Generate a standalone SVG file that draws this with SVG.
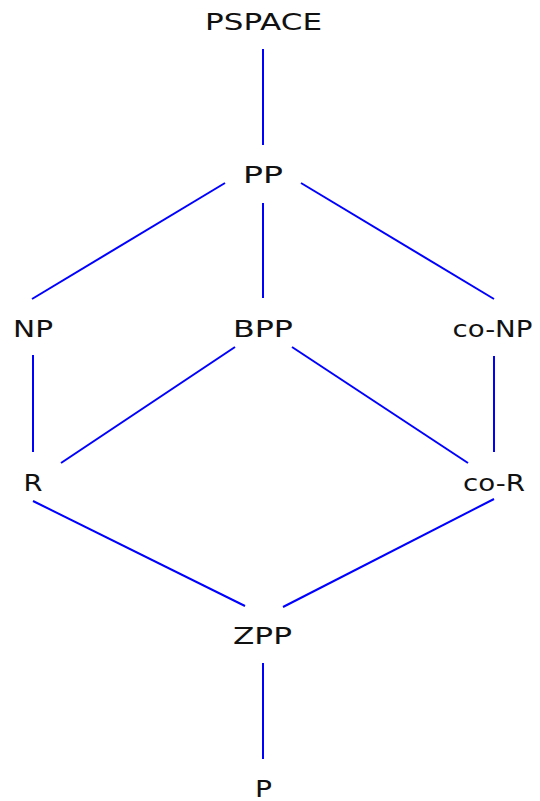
<svg xmlns="http://www.w3.org/2000/svg" width="540" height="801" viewBox="0 0 540 801">
  <style>
    .lbl { font-family: "DejaVu Sans", "Liberation Sans", sans-serif; font-size: 23px; fill: #111; text-anchor: middle; }
    .edge { stroke: #0000ff; stroke-width: 2; fill: none; }
  </style>
  <rect width="540" height="801" fill="#ffffff"/>
  <g id="connectors">
    <line class="edge" x1="263" y1="49" x2="263" y2="145"/>
    <line class="edge" x1="225" y1="183" x2="32" y2="299"/>
    <line class="edge" x1="263" y1="203" x2="263" y2="298"/>
    <line class="edge" x1="301" y1="183" x2="494" y2="299"/>
    <line class="edge" x1="33" y1="355" x2="33" y2="452"/>
    <line class="edge" x1="235" y1="347" x2="61" y2="463"/>
    <line class="edge" x1="292" y1="347" x2="468" y2="463"/>
    <line class="edge" x1="494" y1="356" x2="494" y2="452"/>
    <line class="edge" x1="33" y1="501" x2="245" y2="606"/>
    <line class="edge" x1="494" y1="499" x2="283" y2="607"/>
    <line class="edge" x1="263" y1="663" x2="263" y2="759"/>
  </g>
  <g id="PSPACE"><text class="lbl" x="263.5" y="30" textLength="117" lengthAdjust="spacingAndGlyphs">PSPACE</text></g>
  <g id="PP"><text class="lbl" x="263" y="183" textLength="40" lengthAdjust="spacingAndGlyphs">PP</text></g>
  <g id="NP"><text class="lbl" x="33" y="337" textLength="40" lengthAdjust="spacingAndGlyphs">NP</text></g>
  <g id="BPP"><text class="lbl" x="263" y="337" textLength="60" lengthAdjust="spacingAndGlyphs">BPP</text></g>
  <g id="coNP"><text class="lbl" x="492.5" y="337" textLength="80" lengthAdjust="spacingAndGlyphs">co-NP</text></g>
  <g id="R"><text class="lbl" x="33" y="491" textLength="19" lengthAdjust="spacingAndGlyphs">R</text></g>
  <g id="coR"><text class="lbl" x="494" y="491" textLength="62" lengthAdjust="spacingAndGlyphs">co-R</text></g>
  <g id="ZPP"><text class="lbl" x="262.5" y="644" textLength="59" lengthAdjust="spacingAndGlyphs">ZPP</text></g>
  <g id="P"><text class="lbl" x="263.5" y="797" textLength="17" lengthAdjust="spacingAndGlyphs">P</text></g>
</svg>
